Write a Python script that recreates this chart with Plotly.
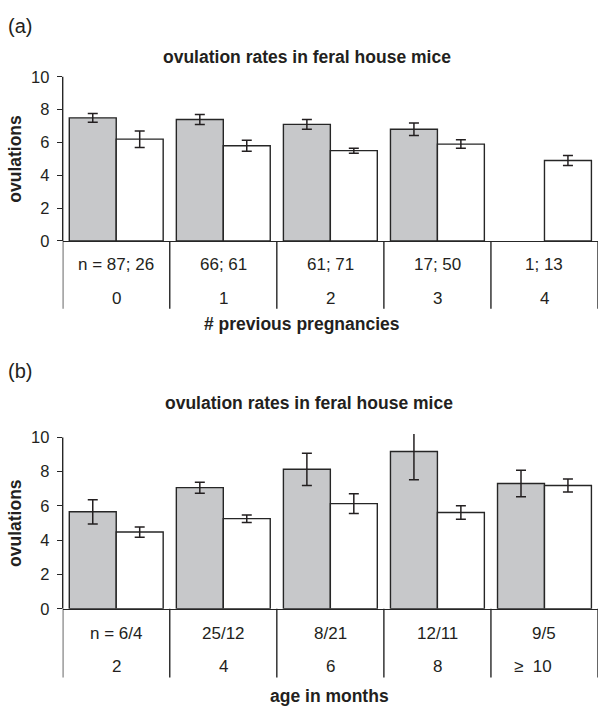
import plotly.graph_objects as go

# Panel (a): ovulations by number of previous pregnancies
preg_groups = ["0", "1", "2", "3", "4"]
preg_n = ["n = 87; 26", "66; 61", "61; 71", "17; 50", "1; 13"]
preg_gray = [7.5, 7.4, 7.1, 6.8, None]
preg_gray_err = [0.27, 0.3, 0.3, 0.38, None]
preg_white = [6.2, 5.8, 5.5, 5.9, 4.9]
preg_white_err = [0.5, 0.33, 0.15, 0.26, 0.3]

# Panel (b): ovulations by age in months
age_groups = ["2", "4", "6", "8", "\u2265\u00a0\u00a010"]
age_n = ["n = 6/4", "25/12", "8/21", "12/11", "9/5"]
age_gray = [5.66, 7.07, 8.14, 9.18, 7.31]
age_gray_err = [0.71, 0.32, 0.94, 1.65, 0.77]
age_white = [4.48, 5.26, 6.14, 5.62, 7.2]
age_white_err = [0.3, 0.22, 0.58, 0.39, 0.38]

y_ticks = [0, 2, 4, 6, 8, 10]

W, H = 598, 715
FONT = "Liberation Sans, Arial, sans-serif"
INK = "#231f20"
GRAY = "#c7c8ca"
EDGE = "#262626"


def py(px):
    """pixel row -> paper fraction"""
    return 1 - px / H


def pxx(px):
    return px / W


fig = go.Figure()


def add_pair(groups, gray, gerr, white, werr, xa, ya):
    fig.add_trace(go.Bar(
        x=groups, y=gray, xaxis=xa, yaxis=ya,
        marker=dict(color=GRAY, line=dict(color=EDGE, width=1.4)),
        error_y=dict(type="data", array=gerr, color=INK, thickness=1.5, width=5),
        showlegend=False, offsetgroup="g", hoverinfo="skip",
    ))
    fig.add_trace(go.Bar(
        x=groups, y=white, xaxis=xa, yaxis=ya,
        marker=dict(color="white", line=dict(color=EDGE, width=1.4)),
        error_y=dict(type="data", array=werr, color=INK, thickness=1.5, width=5),
        showlegend=False, offsetgroup="w", hoverinfo="skip",
    ))


add_pair(preg_groups, preg_gray, preg_gray_err, preg_white, preg_white_err, "x", "y")
add_pair(age_groups, age_gray, age_gray_err, age_white, age_white_err, "x2", "y2")

x_dom = [pxx(62.7), 1.0]
YTOP = 10.2
# panel pixel geometry: zero line row and pixels per unit
a_zero, a_ppu = 240.0, 16.77
b_zero, b_ppu = 615.7, 17.5
a_dom = [py(a_zero), py(a_zero - YTOP * a_ppu)]
b_dom = [py(b_zero), py(b_zero - YTOP * b_ppu)]

xaxis_common = dict(
    domain=x_dom, type="category", range=[-0.5, 4.5],
    showline=True, linecolor=EDGE, linewidth=1.4,
    showticklabels=False, ticks="", showgrid=False, zeroline=False, fixedrange=True,
)
yaxis_common = dict(
    range=[0, YTOP], tickvals=y_ticks, ticks="outside", ticklen=5,
    tickcolor=EDGE, tickwidth=1.4, showline=False, showgrid=False, zeroline=False,
    tickfont=dict(family=FONT, size=16.5, color=INK), ticklabelstandoff=4,
)

fig.update_layout(
    width=W, height=H,
    margin=dict(l=0, r=0, t=0, b=0),
    paper_bgcolor="white", plot_bgcolor="white",
    barmode="group", bargap=0.123, bargroupgap=0,
    xaxis=dict(anchor="y", categoryarray=preg_groups, **xaxis_common),
    yaxis=dict(anchor="x", domain=a_dom, **yaxis_common),
    xaxis2=dict(anchor="y2", categoryarray=age_groups, **xaxis_common),
    yaxis2=dict(anchor="x2", domain=b_dom, **yaxis_common),
)

shapes = []
annotations = []


def panel_decor(xref, yref, groups, nlabels, zero_px, div_end_px, n_px, g_px,
                title_px, xtitle, xtitle_x, letter, letter_px, head_x, head_px, ytitle_px):
    # y-axis line from 0 to 10
    shapes.append(dict(type="line", xref=f"{xref} domain", yref=yref, x0=0, x1=0,
                       y0=0, y1=10, line=dict(color=EDGE, width=1.4)))
    # group dividers under the axis
    for i in range(len(groups) + 1):
        shapes.append(dict(type="line", xref=xref, yref="paper", x0=i - 0.5, x1=i - 0.5,
                           y0=py(zero_px), y1=py(div_end_px),
                           line=dict(color=EDGE, width=1.4)))
    for i, (g, n) in enumerate(zip(groups, nlabels)):
        annotations.append(dict(x=i, xref=xref, y=py(n_px), yref="paper", text=n,
                                showarrow=False, yanchor="middle",
                                font=dict(family=FONT, size=17, color=INK)))
        shift = -11 if g.startswith("\u2265") else 0
        annotations.append(dict(x=i, xref=xref, y=py(g_px), yref="paper", text=g,
                                showarrow=False, yanchor="middle", xshift=shift,
                                font=dict(family=FONT, size=17, color=INK)))
    annotations.append(dict(x=pxx(xtitle_x), xref="paper", y=py(title_px), yref="paper",
                            text=f"<b>{xtitle}</b>", showarrow=False, yanchor="middle",
                            font=dict(family=FONT, size=17.5, color=INK)))
    annotations.append(dict(x=pxx(6), xref="paper", y=py(letter_px), yref="paper",
                            text=letter, showarrow=False, xanchor="left", yanchor="middle",
                            font=dict(family=FONT, size=20, color=INK)))
    annotations.append(dict(x=pxx(head_x), xref="paper", y=py(head_px), yref="paper",
                            text="<b>ovulation rates in feral house mice</b>",
                            showarrow=False, yanchor="middle",
                            font=dict(family=FONT, size=17.5, color=INK)))
    annotations.append(dict(x=pxx(15), xref="paper", y=py(ytitle_px), yref="paper",
                            text="<b>ovulations</b>", textangle=-90, showarrow=False,
                            xanchor="center", yanchor="middle",
                            font=dict(family=FONT, size=17.5, color=INK)))


panel_decor("x", "y", preg_groups, preg_n, a_zero, 309.3, 264.3, 298.3,
            325, "# previous pregnancies", 302, "(a)", 20.7, 307, 51.7, 156)
panel_decor("x2", "y2", age_groups, age_n, b_zero, 686, 640.7, 675,
            705, "age in months", 329, "(b)", 373.3, 309, 405, 528)

fig.update_layout(shapes=shapes, annotations=annotations)

fig.write_html("out.html")
